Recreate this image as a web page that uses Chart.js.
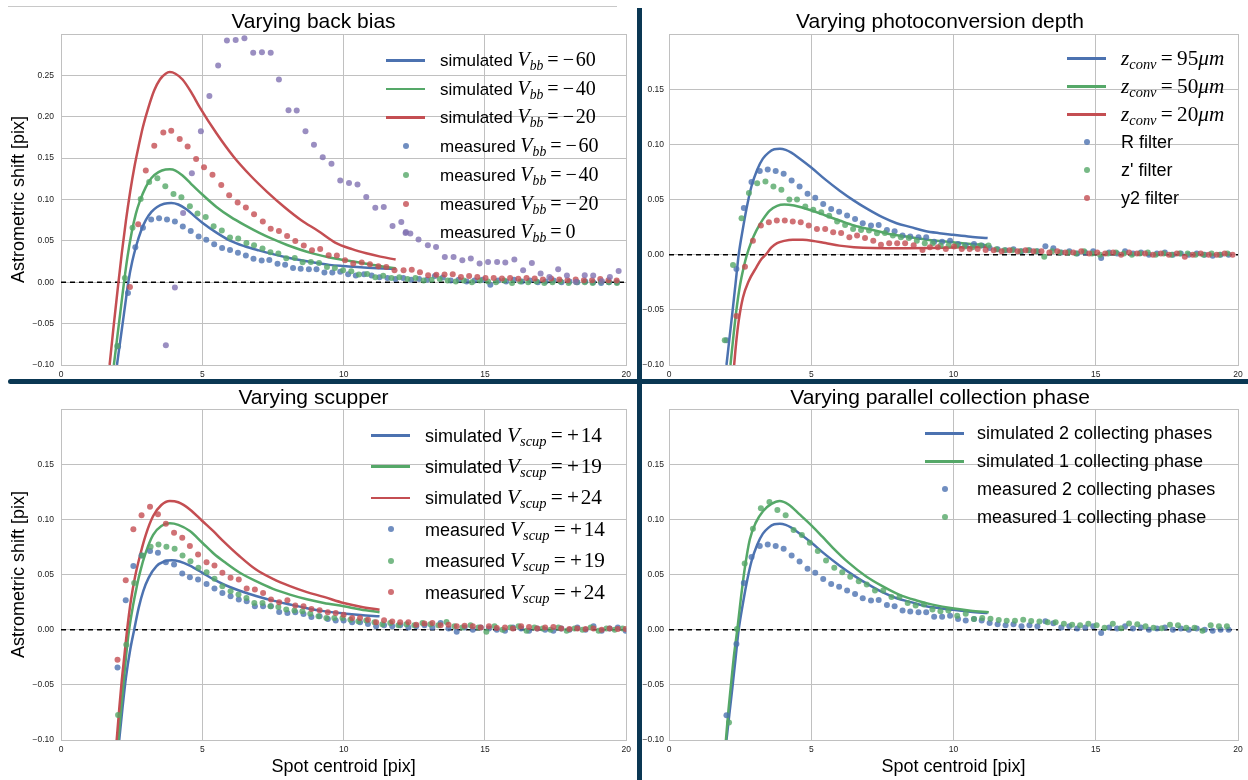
<!DOCTYPE html>
<html>
<head>
<meta charset="utf-8">
<script src="https://cdn.jsdelivr.net/npm/chart.js@4.4.1/dist/chart.umd.min.js"></script>
<style>
  body { margin: 0; background: #fff; }
  #fig { position: relative; width: 1248px; height: 780px; overflow: hidden; background: #fff; }
  #fig canvas { position: absolute; }
  .rule { position: absolute; left: 8px; top: 6px; width: 609px; height: 1px; background: #c8c8c8; }
  .vsep { position: absolute; left: 637px; top: 8px; width: 5px; height: 772px; background: #0a3753; }
  .hsep { position: absolute; left: 8px; top: 379px; width: 1240px; height: 5px; background: #0a3753; border-radius: 3px 0 0 3px; }
  .row { position: absolute; display: flex; align-items: center; height: 24px; white-space: nowrap; }
  .handle { display: block; position: relative; width: 39px; height: 24px; flex: none; }
  .handle .ln { display: block; position: absolute; left: 0; width: 39px; top: 11px; height: 2.5px; }
  .handle .dt { display: block; position: absolute; left: 16.5px; top: 9px; width: 6px; height: 6px; border-radius: 3px; }
  .txt { font-family: "Liberation Sans", Arial, sans-serif; color: #000; line-height: 24px; }
  .m { font-family: "Liberation Serif", "DejaVu Serif", serif; font-size: 118%; }
  .m i { font-style: italic; }
  .m sub { font-style: italic; font-size: 68%; vertical-align: -0.3em; line-height: 0; }
</style>
</head>
<body>
<div id="fig">
  <div class="rule"></div>
  <canvas id="backBias" width="636" height="380" style="left:0px;top:0px"></canvas>
  <canvas id="depth" width="606" height="380" style="left:642px;top:0px"></canvas>
  <canvas id="scupper" width="636" height="394" style="left:0px;top:386px"></canvas>
  <canvas id="phase" width="606" height="394" style="left:642px;top:386px"></canvas>
  <div class="vsep"></div>
  <div class="hsep"></div>
</div>
<script>
// axis limits
const X_MIN = 0, X_MAX = 20, Y_MIN = -0.10;
const Y_MAX_BACKBIAS = 0.30, Y_MAX_OTHER = 0.20;

const BLUE = '#4C72B0', GREEN = '#55A868', RED = '#C44E52', PURPLE = '#8172B2';
const DOT_ALPHA = 0.8;
const FONT = '"Liberation Sans", Arial, sans-serif';
const GRID = '#c0c0c0';

// ---------- shared baseline (Vbb=-60, 95um / R filter, 2 collecting phases) ----------
const simBaseline = [[2.02,-0.100],[2.12,-0.077],[2.23,-0.052],[2.34,-0.026],[2.45,0.000],[2.60,0.024],[2.75,0.045],[2.90,0.062],[3.10,0.077],[3.30,0.087],[3.50,0.0925],[3.70,0.0955],[3.90,0.096],[4.10,0.095],[4.30,0.0925],[4.60,0.087],[5.00,0.079],[5.50,0.068],[6.00,0.058],[6.50,0.049],[7.00,0.041],[7.50,0.034],[8.00,0.0285],[8.50,0.025],[9.00,0.0215],[9.50,0.0195],[10.00,0.018],[10.60,0.0163],[11.20,0.015]];
const measBaselineX = [2.02, 2.37, 2.63, 2.90, 3.19, 3.47, 3.75, 4.03, 4.31, 4.59, 4.87, 5.14, 5.42, 5.70, 5.98, 6.26, 6.54, 6.81, 7.10, 7.37, 7.66, 7.93, 8.21, 8.48, 8.77, 9.04, 9.32, 9.60, 9.88, 10.16, 10.43, 10.72, 10.99, 11.27, 11.55, 11.83, 12.11, 12.39, 12.67, 12.95, 13.23, 13.51, 13.79, 14.07, 14.35, 14.63, 14.91, 15.19, 15.47, 15.75, 16.03, 16.31, 16.59, 16.87, 17.15, 17.43, 17.71, 17.99, 18.27, 18.55, 18.83, 19.11, 19.39, 19.67];
const measBaselineY = [-0.0776, -0.013, 0.0424, 0.0658, 0.0758, 0.0773, 0.0758, 0.0733, 0.0673, 0.0618, 0.0552, 0.0515, 0.046, 0.0415, 0.039, 0.0355, 0.0324, 0.0285, 0.0264, 0.027, 0.0224, 0.0212, 0.0173, 0.0164, 0.0158, 0.0158, 0.0118, 0.0118, 0.0127, 0.0097, 0.0082, 0.0097, 0.0082, 0.006, 0.005, 0.004, 0.005, 0.003, 0.004, 0.003, 0.0076, 0.0058, 0.002, 0.003, 0.001, 0.002, 0.003, -0.003, 0.002, 0.001, 0.003, 0.001, 0.002, 0.000, 0.001, 0.002, 0.000, 0.001, 0.000, 0.001, 0.000, -0.001, 0.000, 0.000];

// ---------- panel 1: varying back bias ----------
const simBackBias60 = [[1.98,-0.100],[2.08,-0.075],[2.18,-0.050],[2.28,-0.025],[2.38,0.000],[2.52,0.025],[2.67,0.045],[2.83,0.062],[3.00,0.075],[3.20,0.085],[3.40,0.091],[3.65,0.0948],[3.90,0.0958],[4.15,0.094],[4.45,0.088],[4.75,0.079],[5.00,0.072],[5.50,0.060],[6.00,0.050],[6.50,0.0435],[7.00,0.0385],[7.50,0.034],[8.00,0.030],[8.50,0.0265],[9.00,0.0235],[9.50,0.021],[10.00,0.0195],[10.60,0.018],[11.20,0.017],[11.84,0.0162]];
const simBackBias40 = [[1.87,-0.100],[1.96,-0.075],[2.05,-0.050],[2.14,-0.025],[2.23,0.000],[2.35,0.030],[2.50,0.060],[2.65,0.083],[2.80,0.099],[3.00,0.115],[3.20,0.126],[3.45,0.133],[3.70,0.1362],[3.85,0.1365],[4.05,0.135],[4.30,0.129],[4.60,0.119],[5.00,0.106],[5.50,0.091],[6.00,0.079],[6.50,0.069],[7.00,0.060],[7.50,0.052],[8.00,0.045],[8.50,0.039],[9.00,0.034],[9.50,0.030],[10.00,0.027],[10.60,0.0235],[11.20,0.020],[11.84,0.017]];
const simBackBias20 = [[1.72,-0.100],[1.85,-0.057],[2.00,-0.010],[2.15,0.035],[2.30,0.075],[2.45,0.110],[2.60,0.140],[2.75,0.165],[2.90,0.188],[3.10,0.212],[3.30,0.232],[3.50,0.245],[3.70,0.252],[3.85,0.254],[4.05,0.252],[4.30,0.245],[4.60,0.230],[4.90,0.212],[5.50,0.180],[6.10,0.152],[6.70,0.129],[7.30,0.109],[7.90,0.091],[8.50,0.075],[9.10,0.062],[9.70,0.048],[10.30,0.040],[10.80,0.035],[11.30,0.031],[11.84,0.0274]];
const measBackBias40X = [1.99, 2.26, 2.53, 2.82, 3.12, 3.41, 3.69, 3.98, 4.26, 4.56, 4.83, 5.12, 5.40, 5.69, 5.98, 6.27, 6.56, 6.83, 7.13, 7.41, 7.69, 7.97, 8.27, 8.55, 8.84, 9.13, 9.41, 9.69, 9.98, 10.27, 10.54, 10.83, 11.12, 11.40, 11.69, 11.97, 12.26, 12.54, 12.83, 13.11, 13.40, 13.68, 13.97, 14.25, 14.54, 14.82, 15.11, 15.39, 15.68, 15.96, 16.25, 16.53, 16.82, 17.10, 17.39, 17.67, 17.96, 18.24, 18.53, 18.81, 19.10, 19.38, 19.67];
const measBackBias40Y = [-0.077, 0.0052, 0.066, 0.1006, 0.121, 0.1256, 0.116, 0.1067, 0.1027, 0.0918, 0.083, 0.0789, 0.0676, 0.0624, 0.054, 0.0528, 0.0475, 0.0447, 0.0407, 0.0362, 0.0347, 0.029, 0.0293, 0.0242, 0.0245, 0.0233, 0.0185, 0.0173, 0.0145, 0.0133, 0.0093, 0.010, 0.006, 0.008, 0.005, 0.006, 0.004, 0.005, 0.002, 0.003, 0.004, 0.002, 0.001, 0.002, 0.000, 0.002, 0.001, 0.000, 0.002, -0.001, 0.001, 0.000, 0.001, -0.001, 0.000, 0.001, -0.001, 0.000, 0.000, -0.001, 0.001, 0.000, -0.001];
const measBackBias20X = [2.44, 2.73, 3.00, 3.30, 3.62, 3.90, 4.20, 4.48, 4.78, 5.06, 5.36, 5.67, 5.95, 6.25, 6.54, 6.83, 7.14, 7.42, 7.71, 8.00, 8.29, 8.59, 8.88, 9.17, 9.47, 9.76, 10.05, 10.34, 10.64, 10.93, 11.23, 11.51, 11.80, 12.12, 12.41, 12.70, 12.99, 13.28, 13.57, 13.86, 14.15, 14.44, 14.73, 15.02, 15.31, 15.60, 15.89, 16.18, 16.47, 16.76, 17.05, 17.34, 17.63, 17.92, 18.21, 18.50, 18.79, 19.08, 19.37, 19.66];
const measBackBias20Y = [-0.0057, 0.07, 0.135, 0.165, 0.181, 0.183, 0.173, 0.164, 0.149, 0.139, 0.130, 0.1175, 0.105, 0.0963, 0.0902, 0.0821, 0.0733, 0.0648, 0.062, 0.056, 0.0499, 0.0443, 0.0386, 0.0402, 0.0326, 0.0322, 0.0266, 0.0226, 0.0238, 0.0217, 0.0193, 0.0185, 0.0145, 0.0145, 0.0150, 0.0120, 0.0085, 0.0090, 0.0095, 0.0097, 0.0064, 0.0076, 0.0064, 0.0052, 0.0052, 0.0045, 0.0050, 0.0042, 0.0050, 0.0045, 0.0032, 0.0045, 0.0032, 0.0024, 0.0032, 0.0024, 0.0024, 0.0040, 0.0024, 0.0020];
const measBackBias0X = [3.71, 4.03, 4.32, 4.63, 4.95, 5.25, 5.56, 5.87, 6.18, 6.49, 6.80, 7.11, 7.42, 7.71, 8.05, 8.34, 8.65, 8.95, 9.26, 9.57, 9.88, 10.19, 10.49, 10.80, 11.12, 11.42, 11.73, 12.04, 12.19, 12.36, 12.65, 12.98, 13.27, 13.58, 13.89, 14.20, 14.50, 14.81, 15.11, 15.43, 15.72, 16.04, 16.35, 16.66, 16.97, 17.28, 17.59, 17.90, 18.22, 18.53, 18.83, 19.14, 19.42, 19.73];
const measBackBias0Y = [-0.076, -0.0064, 0.0837, 0.1316, 0.1824, 0.225, 0.262, 0.292, 0.2926, 0.295, 0.2774, 0.2778, 0.2774, 0.245, 0.208, 0.2077, 0.1824, 0.1663, 0.151, 0.1433, 0.123, 0.120, 0.118, 0.103, 0.090, 0.091, 0.068, 0.0728, 0.0595, 0.0588, 0.0516, 0.0447, 0.0426, 0.0306, 0.0306, 0.0266, 0.0286, 0.0226, 0.0245, 0.0245, 0.0238, 0.0274, 0.0145, 0.0233, 0.0105, 0.0064, 0.0157, 0.0081, 0.0004, 0.0085, 0.0081, 0.0012, 0.0064, 0.0137];

// ---------- panel 2: varying photoconversion depth ----------
const simDepth50 = [[2.16,-0.100],[2.26,-0.075],[2.37,-0.050],[2.50,-0.027],[2.62,-0.012],[2.74,0.000],[2.90,0.012],[3.07,0.0218],[3.30,0.032],[3.54,0.040],[3.80,0.0443],[4.06,0.0455],[4.40,0.0445],[4.70,0.0425],[5.02,0.040],[5.50,0.0355],[5.99,0.031],[6.50,0.0265],[7.16,0.0224],[7.70,0.019],[8.33,0.0164],[9.00,0.0138],[9.99,0.0112],[10.60,0.0097],[11.18,0.0085]];
const simDepth20 = [[2.29,-0.100],[2.36,-0.080],[2.45,-0.060],[2.60,-0.0388],[2.80,-0.024],[3.07,-0.0115],[3.25,-0.004],[3.40,0.000],[3.60,0.0065],[3.80,0.0105],[4.05,0.0125],[4.35,0.0136],[4.70,0.0135],[5.02,0.0127],[5.50,0.0105],[5.99,0.0082],[6.50,0.0068],[7.16,0.006],[8.33,0.0058],[9.20,0.006],[9.99,0.0065],[10.60,0.0068],[11.18,0.0072]];
const measZFilterX = [1.96, 2.25, 2.55, 2.81, 3.10, 3.39, 3.67, 3.95, 4.23, 4.50, 4.79, 5.07, 5.35, 5.63, 5.91, 6.19, 6.47, 6.75, 7.03, 7.31, 7.59, 7.87, 8.15, 8.43, 8.71, 8.99, 9.27, 9.55, 9.83, 10.11, 10.39, 10.67, 10.95, 11.23, 11.51, 11.79, 12.07, 12.35, 12.63, 12.91, 13.19, 13.47, 13.75, 14.03, 14.31, 14.59, 14.87, 15.15, 15.43, 15.71, 15.99, 16.27, 16.55, 16.83, 17.11, 17.39, 17.67, 17.95, 18.23, 18.51, 18.79, 19.07, 19.35, 19.63];
const measZFilterY = [-0.0776, -0.0094, 0.033, 0.0558, 0.0648, 0.0664, 0.0618, 0.0588, 0.05, 0.05, 0.0436, 0.0406, 0.0385, 0.0352, 0.03, 0.027, 0.0233, 0.0224, 0.0218, 0.0194, 0.0197, 0.0173, 0.0158, 0.0152, 0.0127, 0.0103, 0.0103, 0.0082, 0.0082, 0.0082, 0.0073, 0.0067, 0.0082, 0.0082, 0.005, 0.004, 0.004, 0.003, 0.004, 0.003, -0.002, 0.003, 0.002, 0.002, 0.001, 0.003, 0.001, 0.000, 0.001, 0.002, 0.001, 0.000, 0.001, 0.002, 0.000, 0.001, 0.000, 0.001, 0.001, 0.000, 0.000, 0.001, 0.000, 0.001];
const measY2FilterX = [2.37, 2.67, 2.95, 3.23, 3.51, 3.79, 4.07, 4.35, 4.63, 4.91, 5.20, 5.49, 5.77, 6.05, 6.34, 6.61, 6.89, 7.18, 7.45, 7.74, 8.02, 8.30, 8.60, 8.91, 9.17, 9.45, 9.73, 10.02, 10.29, 10.57, 10.85, 11.13, 11.41, 11.69, 11.97, 12.25, 12.53, 12.81, 13.09, 13.37, 13.65, 13.93, 14.21, 14.49, 14.77, 15.05, 15.33, 15.61, 15.89, 16.17, 16.45, 16.73, 17.01, 17.29, 17.57, 17.85, 18.13, 18.41, 18.69, 18.97, 19.25, 19.53, 19.81];
const measY2FilterY = [-0.0555, -0.011, 0.0127, 0.0264, 0.0294, 0.0309, 0.0309, 0.03, 0.0294, 0.0264, 0.0233, 0.0233, 0.0203, 0.0197, 0.0158, 0.0173, 0.0152, 0.0127, 0.0091, 0.0103, 0.0103, 0.0103, 0.0085, 0.0042, 0.0067, 0.0067, 0.0052, 0.0073, 0.0052, 0.0052, 0.0052, 0.0042, 0.004, 0.003, 0.004, 0.003, 0.004, 0.003, 0.003, 0.002, 0.003, 0.002, 0.002, 0.003, 0.001, 0.002, 0.001, 0.002, 0.000, 0.002, 0.001, 0.001, 0.000, 0.001, 0.000, 0.001, -0.002, 0.000, 0.001, 0.000, 0.000, 0.001, 0.000];

// ---------- panel 3: varying scupper ----------
const simScup14 = [[2.06,-0.100],[2.18,-0.070],[2.30,-0.043],[2.45,-0.018],[2.59,0.000],[2.75,0.020],[2.91,0.035],[3.10,0.047],[3.38,0.0576],[3.65,0.0618],[3.91,0.063],[4.20,0.0618],[4.56,0.058],[5.00,0.0515],[5.40,0.0455],[5.80,0.0405],[6.30,0.0355],[6.90,0.0305],[7.50,0.0263],[8.10,0.0228],[8.70,0.0195],[9.30,0.0168],[10.00,0.0147],[10.60,0.0133],[11.27,0.0121]];
const simScup19 = [[2.03,-0.100],[2.12,-0.073],[2.22,-0.046],[2.31,-0.022],[2.41,0.000],[2.55,0.022],[2.68,0.039],[2.79,0.0515],[3.00,0.070],[3.26,0.086],[3.55,0.094],[3.85,0.0964],[4.15,0.095],[4.56,0.0894],[5.00,0.0788],[5.40,0.069],[5.80,0.061],[6.30,0.052],[6.90,0.0439],[7.50,0.037],[8.10,0.0318],[8.70,0.0275],[9.30,0.0242],[10.00,0.0212],[10.60,0.0183],[11.27,0.0158]];
const simScup24 = [[1.97,-0.100],[2.06,-0.072],[2.15,-0.046],[2.25,-0.022],[2.34,0.000],[2.47,0.026],[2.62,0.048],[2.79,0.0667],[3.00,0.086],[3.26,0.103],[3.55,0.113],[3.85,0.1167],[4.15,0.1155],[4.56,0.109],[5.00,0.0985],[5.40,0.089],[5.74,0.0803],[6.30,0.067],[6.90,0.0545],[7.50,0.046],[8.10,0.0394],[8.70,0.034],[9.30,0.0297],[10.00,0.0242],[10.60,0.0208],[11.27,0.018]];
const measScupX = [2.00, 2.29, 2.56, 2.85, 3.15, 3.43, 3.71, 4.00, 4.29, 4.56, 4.85, 5.15, 5.43, 5.71, 6.00, 6.29, 6.57, 6.86, 7.15, 7.43, 7.72, 8.01, 8.29, 8.58, 8.86, 9.15, 9.44, 9.72, 10.00, 10.30, 10.58, 10.86, 11.15, 11.43, 11.72, 12.00, 12.29, 12.57, 12.86, 13.14, 13.43, 13.71, 14.00, 14.28, 14.57, 14.85, 15.14, 15.42, 15.71, 15.99, 16.28, 16.56, 16.85, 17.13, 17.42, 17.70, 17.99, 18.27, 18.56, 18.84, 19.13, 19.41, 19.70, 19.98];
const measScup14Y = [-0.0342, 0.0267, 0.0576, 0.0673, 0.0712, 0.0697, 0.0612, 0.0591, 0.0509, 0.0476, 0.0455, 0.0415, 0.0373, 0.0333, 0.0303, 0.0273, 0.0258, 0.0212, 0.0212, 0.0212, 0.0161, 0.0152, 0.0158, 0.0142, 0.0115, 0.0121, 0.0097, 0.0082, 0.0082, 0.0067, 0.0067, 0.0052, 0.003, 0.004, 0.003, 0.004, 0.002, 0.003, 0.004, 0.002, 0.006, 0.001, -0.002, 0.002, 0.000, 0.002, 0.001, 0.000, -0.001, 0.002, 0.001, -0.001, 0.001, 0.000, -0.001, 0.001, 0.000, 0.002, 0.000, 0.003, -0.001, 0.001, 0.002, -0.001];
const measScup24Y = [-0.0273, 0.0448, 0.0909, 0.1036, 0.1115, 0.1045, 0.096, 0.0879, 0.0833, 0.0758, 0.0682, 0.0612, 0.0582, 0.0515, 0.047, 0.0455, 0.0373, 0.0364, 0.0333, 0.0273, 0.0248, 0.0267, 0.0218, 0.0212, 0.0188, 0.0176, 0.0158, 0.0152, 0.0136, 0.0106, 0.0106, 0.0091, 0.0067, 0.0085, 0.0075, 0.0067, 0.0067, 0.0045, 0.0055, 0.006, 0.004, 0.0045, 0.003, 0.0036, 0.003, 0.002, 0.003, 0.0015, 0.002, 0.001, 0.003, 0.0024, 0.001, 0.002, 0.0025, 0.001, 0.0005, 0.001, 0.0005, 0.001, 0.000, 0.001, 0.0005, 0.0005];
const measScup19X = [2.02, 2.31, 2.59, 2.88, 3.17, 3.45, 3.73, 4.02, 4.30, 4.58, 4.86, 5.15, 5.43, 5.71, 6.00, 6.28, 6.56, 6.84, 7.13, 7.41, 7.69, 7.97, 8.26, 8.54, 8.82, 9.11, 9.39, 9.67, 9.96, 10.24, 10.52, 10.80, 11.09, 11.37, 11.65, 11.94, 12.22, 12.50, 12.79, 13.07, 13.35, 13.64, 13.92, 14.20, 14.49, 14.77, 15.05, 15.34, 15.62, 15.90, 16.19, 16.47, 16.75, 17.04, 17.32, 17.60, 17.89, 18.17, 18.45, 18.74, 19.02, 19.30, 19.59, 19.87];
const measScup19Y = [-0.0773, -0.0136, 0.0424, 0.0673, 0.0752, 0.0773, 0.0752, 0.0733, 0.0673, 0.0621, 0.0561, 0.0521, 0.0461, 0.0394, 0.0348, 0.0318, 0.0288, 0.0242, 0.0242, 0.0212, 0.0206, 0.0182, 0.0173, 0.0167, 0.0145, 0.0121, 0.0106, 0.0106, 0.0106, 0.0091, 0.0076, 0.0082, 0.0067, 0.005, 0.006, 0.004, 0.005, 0.004, 0.006, 0.005, 0.004, 0.007, 0.003, 0.002, 0.004, 0.002, -0.002, 0.003, 0.000, 0.002, 0.003, -0.001, 0.002, 0.001, 0.000, 0.002, -0.001, 0.001, 0.000, 0.002, -0.001, 0.001, 0.000, 0.001];

// ---------- panel 4: varying parallel collection phase ----------
const simOnePhase = [[2.00,-0.100],[2.09,-0.073],[2.19,-0.047],[2.29,-0.022],[2.40,0.000],[2.52,0.027],[2.66,0.055],[2.84,0.0818],[3.05,0.097],[3.31,0.1076],[3.60,0.114],[3.89,0.1167],[4.20,0.1135],[4.59,0.1045],[5.03,0.0939],[5.40,0.084],[5.76,0.0742],[6.30,0.061],[6.92,0.0485],[7.50,0.0395],[8.09,0.0318],[8.70,0.0265],[9.26,0.0227],[10.02,0.0191],[10.60,0.0172],[11.24,0.0158]];
const measOnePhaseX = [2.11, 2.39, 2.66, 2.95, 3.23, 3.53, 3.81, 4.10, 4.38, 4.67, 4.95, 5.23, 5.52, 5.81, 6.09, 6.37, 6.67, 6.95, 7.24, 7.53, 7.82, 8.10, 8.39, 8.67, 8.96, 9.26, 9.54, 9.82, 10.13, 10.43, 10.72, 11.01, 11.30, 11.59, 11.87, 12.16, 12.45, 12.73, 13.02, 13.31, 13.59, 13.88, 14.17, 14.45, 14.74, 15.03, 15.31, 15.60, 15.89, 16.17, 16.46, 16.75, 17.03, 17.32, 17.61, 17.89, 18.18, 18.47, 18.75, 19.04, 19.33, 19.61];
const measOnePhaseY = [-0.0842, 0.0006, 0.06, 0.0915, 0.110, 0.1158, 0.1085, 0.1036, 0.0903, 0.0858, 0.0788, 0.0712, 0.0627, 0.0561, 0.0521, 0.0479, 0.0439, 0.0409, 0.0355, 0.0355, 0.0297, 0.0297, 0.0242, 0.0218, 0.0227, 0.0182, 0.0167, 0.0173, 0.0127, 0.0145, 0.0097, 0.0106, 0.010, 0.0088, 0.008, 0.008, 0.009, 0.0079, 0.0073, 0.0067, 0.0067, 0.0054, 0.0045, 0.004, 0.0054, 0.004, 0.0018, 0.0054, 0.0012, 0.0055, 0.005, 0.003, 0.0018, 0.0012, 0.0045, 0.004, 0.0018, 0.0018, -0.001, 0.004, 0.003, 0.003];

// ---------- helpers ----------
const pairsToPoints = (pairs) => pairs.map(([x, y]) => ({ x, y }));
const zip = (xs, ys) => xs.map((x, i) => ({ x, y: ys[i] })).filter(p => p.y !== undefined);
function rgba(hex, a) {
  const n = parseInt(hex.slice(1), 16);
  return `rgba(${(n >> 16) & 255},${(n >> 8) & 255},${n & 255},${a})`;
}
function simLine(pairs, color, k) {
  return { data: pairsToPoints(pairs), showLine: true, borderColor: color, borderWidth: 2.5,
    pointRadius: 0, cubicInterpolationMode: 'monotone', order: 200 - k };
}
function measDots(xs, ys, color, k) {
  const c = rgba(color, DOT_ALPHA);
  return { data: zip(xs, ys), showLine: false, backgroundColor: c, borderColor: c,
    pointRadius: 3, pointBorderWidth: 0, order: 100 - k };
}
function zeroLine() {
  return { data: [{ x: X_MIN, y: 0 }, { x: X_MAX, y: 0 }], showLine: true, borderColor: '#000',
    borderWidth: 1.5, borderDash: [5, 4], pointRadius: 0, order: 300 };
}
function fmtTick(v) {
  if (Math.abs(v) < 1e-9) return '0.00';
  const s = v.toFixed(2);
  return s.startsWith('-') ? '\u2212' + s.slice(1) : s;
}

function makePanel(id, p) {
  new Chart(document.getElementById(id), {
    type: 'scatter',
    data: { datasets: p.datasets },
    options: {
      responsive: false, animation: false, devicePixelRatio: 1,
      layout: { padding: { left: 0, right: p.padRight, top: 0, bottom: 0 } },
      plugins: {
        legend: { display: false },
        tooltip: { enabled: false },
        title: {
          display: true, text: p.title, color: '#000',
          font: { family: FONT, size: 21, weight: 'normal', lineHeight: 1 },
          padding: { top: p.titleTop, bottom: p.titleBottom }
        }
      },
      scales: {
        x: {
          type: 'linear', min: X_MIN, max: X_MAX,
          ticks: { stepSize: 5, padding: 5, color: '#222', maxRotation: 0,
            font: { family: FONT, size: 8.5 }, callback: v => String(v) },
          grid: { color: GRID, lineWidth: 1, drawTicks: false },
          border: { display: true, color: GRID },
          title: { display: !!p.xTitle, text: 'Spot centroid [pix]', color: '#000',
            font: { family: FONT, size: 18 }, padding: { top: 0, bottom: 2 } },
          afterFit: s => { s.height = p.xHeight; }
        },
        y: {
          type: 'linear', min: Y_MIN, max: p.yMax,
          ticks: { stepSize: 0.05, padding: p.yPad, color: '#222',
            font: { family: FONT, size: 8.5 },
            callback: v => (v > p.yMax - 1e-6 ? '' : fmtTick(v)) },
          grid: { color: GRID, lineWidth: 1, drawTicks: false },
          border: { display: true, color: GRID },
          title: { display: !!p.yTitle, text: 'Astrometric shift [pix]', color: '#000',
            font: { family: FONT, size: 18 }, padding: { top: 8, bottom: 0 } },
          afterFit: s => { s.width = p.yWidth; }
        }
      }
    }
  });
}

// ---------- panels ----------
makePanel('backBias', {
  title: 'Varying back bias', yMax: Y_MAX_BACKBIAS, yTitle: true, xTitle: false,
  yWidth: 61, yPad: 7, padRight: 9, xHeight: 15, titleTop: 11.5, titleBottom: 1.5,
  datasets: [
    measDots(measBaselineX, measBaselineY, BLUE, 0),
    measDots(measBackBias40X, measBackBias40Y, GREEN, 1),
    measDots(measBackBias20X, measBackBias20Y, RED, 2),
    measDots(measBackBias0X, measBackBias0Y, PURPLE, 3),
    simLine(simBackBias60, BLUE, 0),
    simLine(simBackBias40, GREEN, 1),
    simLine(simBackBias20, RED, 2),
    zeroLine()
  ]
});
makePanel('depth', {
  title: 'Varying photoconversion depth', yMax: Y_MAX_OTHER, yTitle: false, xTitle: false,
  yWidth: 27, yPad: 5, padRight: 10, xHeight: 15, titleTop: 11.5, titleBottom: 1.5,
  datasets: [
    measDots(measBaselineX, measBaselineY, BLUE, 0),
    measDots(measZFilterX, measZFilterY, GREEN, 1),
    measDots(measY2FilterX, measY2FilterY, RED, 2),
    simLine(simBaseline, BLUE, 0),
    simLine(simDepth50, GREEN, 1),
    simLine(simDepth20, RED, 2),
    zeroLine()
  ]
});
makePanel('scupper', {
  title: 'Varying scupper', yMax: Y_MAX_OTHER, yTitle: true, xTitle: true,
  yWidth: 61, yPad: 7, padRight: 9, xHeight: 40, titleTop: 1.5, titleBottom: 0.5,
  datasets: [
    measDots(measScupX, measScup14Y, BLUE, 0),
    measDots(measScup19X, measScup19Y, GREEN, 1),
    measDots(measScupX, measScup24Y, RED, 2),
    simLine(simScup14, BLUE, 0),
    simLine(simScup19, GREEN, 1),
    simLine(simScup24, RED, 2),
    zeroLine()
  ]
});
makePanel('phase', {
  title: 'Varying parallel collection phase', yMax: Y_MAX_OTHER, yTitle: false, xTitle: true,
  yWidth: 27, yPad: 5, padRight: 10, xHeight: 40, titleTop: 1.5, titleBottom: 0.5,
  datasets: [
    measDots(measBaselineX, measBaselineY, BLUE, 0),
    measDots(measOnePhaseX, measOnePhaseY, GREEN, 1),
    simLine(simBaseline, BLUE, 0),
    simLine(simOnePhase, GREEN, 1),
    zeroLine()
  ]
});

// ---------- legends (HTML text, mixed sans + math serif) ----------
const vbb = (v) => `<span class="m"><i>V</i><sub>bb</sub>&#8201;=&#8201;${v}</span>`;
const vscup = (v) => `<span class="m"><i>V</i><sub>scup</sub>&#8201;=&#8201;+&#8202;${v}</span>`;
const zconv = (v) => `<span class="m"><i>z</i><sub>conv</sub>&#8201;=&#8201;${v}<i>\u03bcm</i></span>`;

const legendBackBias = [
  { dot: false, color: BLUE, label: 'simulated ' + vbb('\u2212&#8202;60') },
  { dot: false, color: GREEN, label: 'simulated ' + vbb('\u2212&#8202;40') },
  { dot: false, color: RED, label: 'simulated ' + vbb('\u2212&#8202;20') },
  { dot: true, color: BLUE, label: 'measured ' + vbb('\u2212&#8202;60') },
  { dot: true, color: GREEN, label: 'measured ' + vbb('\u2212&#8202;40') },
  { dot: true, color: RED, label: 'measured ' + vbb('\u2212&#8202;20') },
  { dot: true, color: PURPLE, label: 'measured ' + vbb('0') }
];
const legendDepth = [
  { dot: false, color: BLUE, label: zconv('95') },
  { dot: false, color: GREEN, label: zconv('50') },
  { dot: false, color: RED, label: zconv('20') },
  { dot: true, color: BLUE, label: 'R filter' },
  { dot: true, color: GREEN, label: "z' filter" },
  { dot: true, color: RED, label: 'y2 filter' }
];
const legendScupper = [
  { dot: false, color: BLUE, label: 'simulated ' + vscup('14') },
  { dot: false, color: GREEN, label: 'simulated ' + vscup('19') },
  { dot: false, color: RED, label: 'simulated ' + vscup('24') },
  { dot: true, color: BLUE, label: 'measured ' + vscup('14') },
  { dot: true, color: GREEN, label: 'measured ' + vscup('19') },
  { dot: true, color: RED, label: 'measured ' + vscup('24') }
];
const legendPhase = [
  { dot: false, color: BLUE, label: 'simulated 2 collecting phases' },
  { dot: false, color: GREEN, label: 'simulated 1 collecting phase' },
  { dot: true, color: BLUE, label: 'measured 2 collecting phases' },
  { dot: true, color: GREEN, label: 'measured 1 collecting phase' }
];

function addLegend(items, left, top, step, fontSize, gap) {
  const fig = document.getElementById('fig');
  items.forEach((it, i) => {
    const row = document.createElement('div');
    row.className = 'row';
    row.style.left = left + 'px';
    row.style.top = (top + i * step - 12) + 'px';
    const mark = it.dot
      ? `<span class="dt" style="background:${rgba(it.color, DOT_ALPHA)}"></span>`
      : `<span class="ln" style="background:${it.color}"></span>`;
    row.innerHTML = `<span class="handle">${mark}</span>` +
      `<span class="txt" style="font-size:${fontSize}px;margin-left:${gap}px">${it.label}</span>`;
    fig.appendChild(row);
  });
}
addLegend(legendBackBias, 386, 60, 28.7, 17, 15);
addLegend(legendDepth, 1067, 58.3, 27.9, 18, 15);
addLegend(legendScupper, 371, 435, 31.4, 18, 15);
addLegend(legendPhase, 925, 433.3, 27.8, 18, 13);
</script>
</body>
</html>
